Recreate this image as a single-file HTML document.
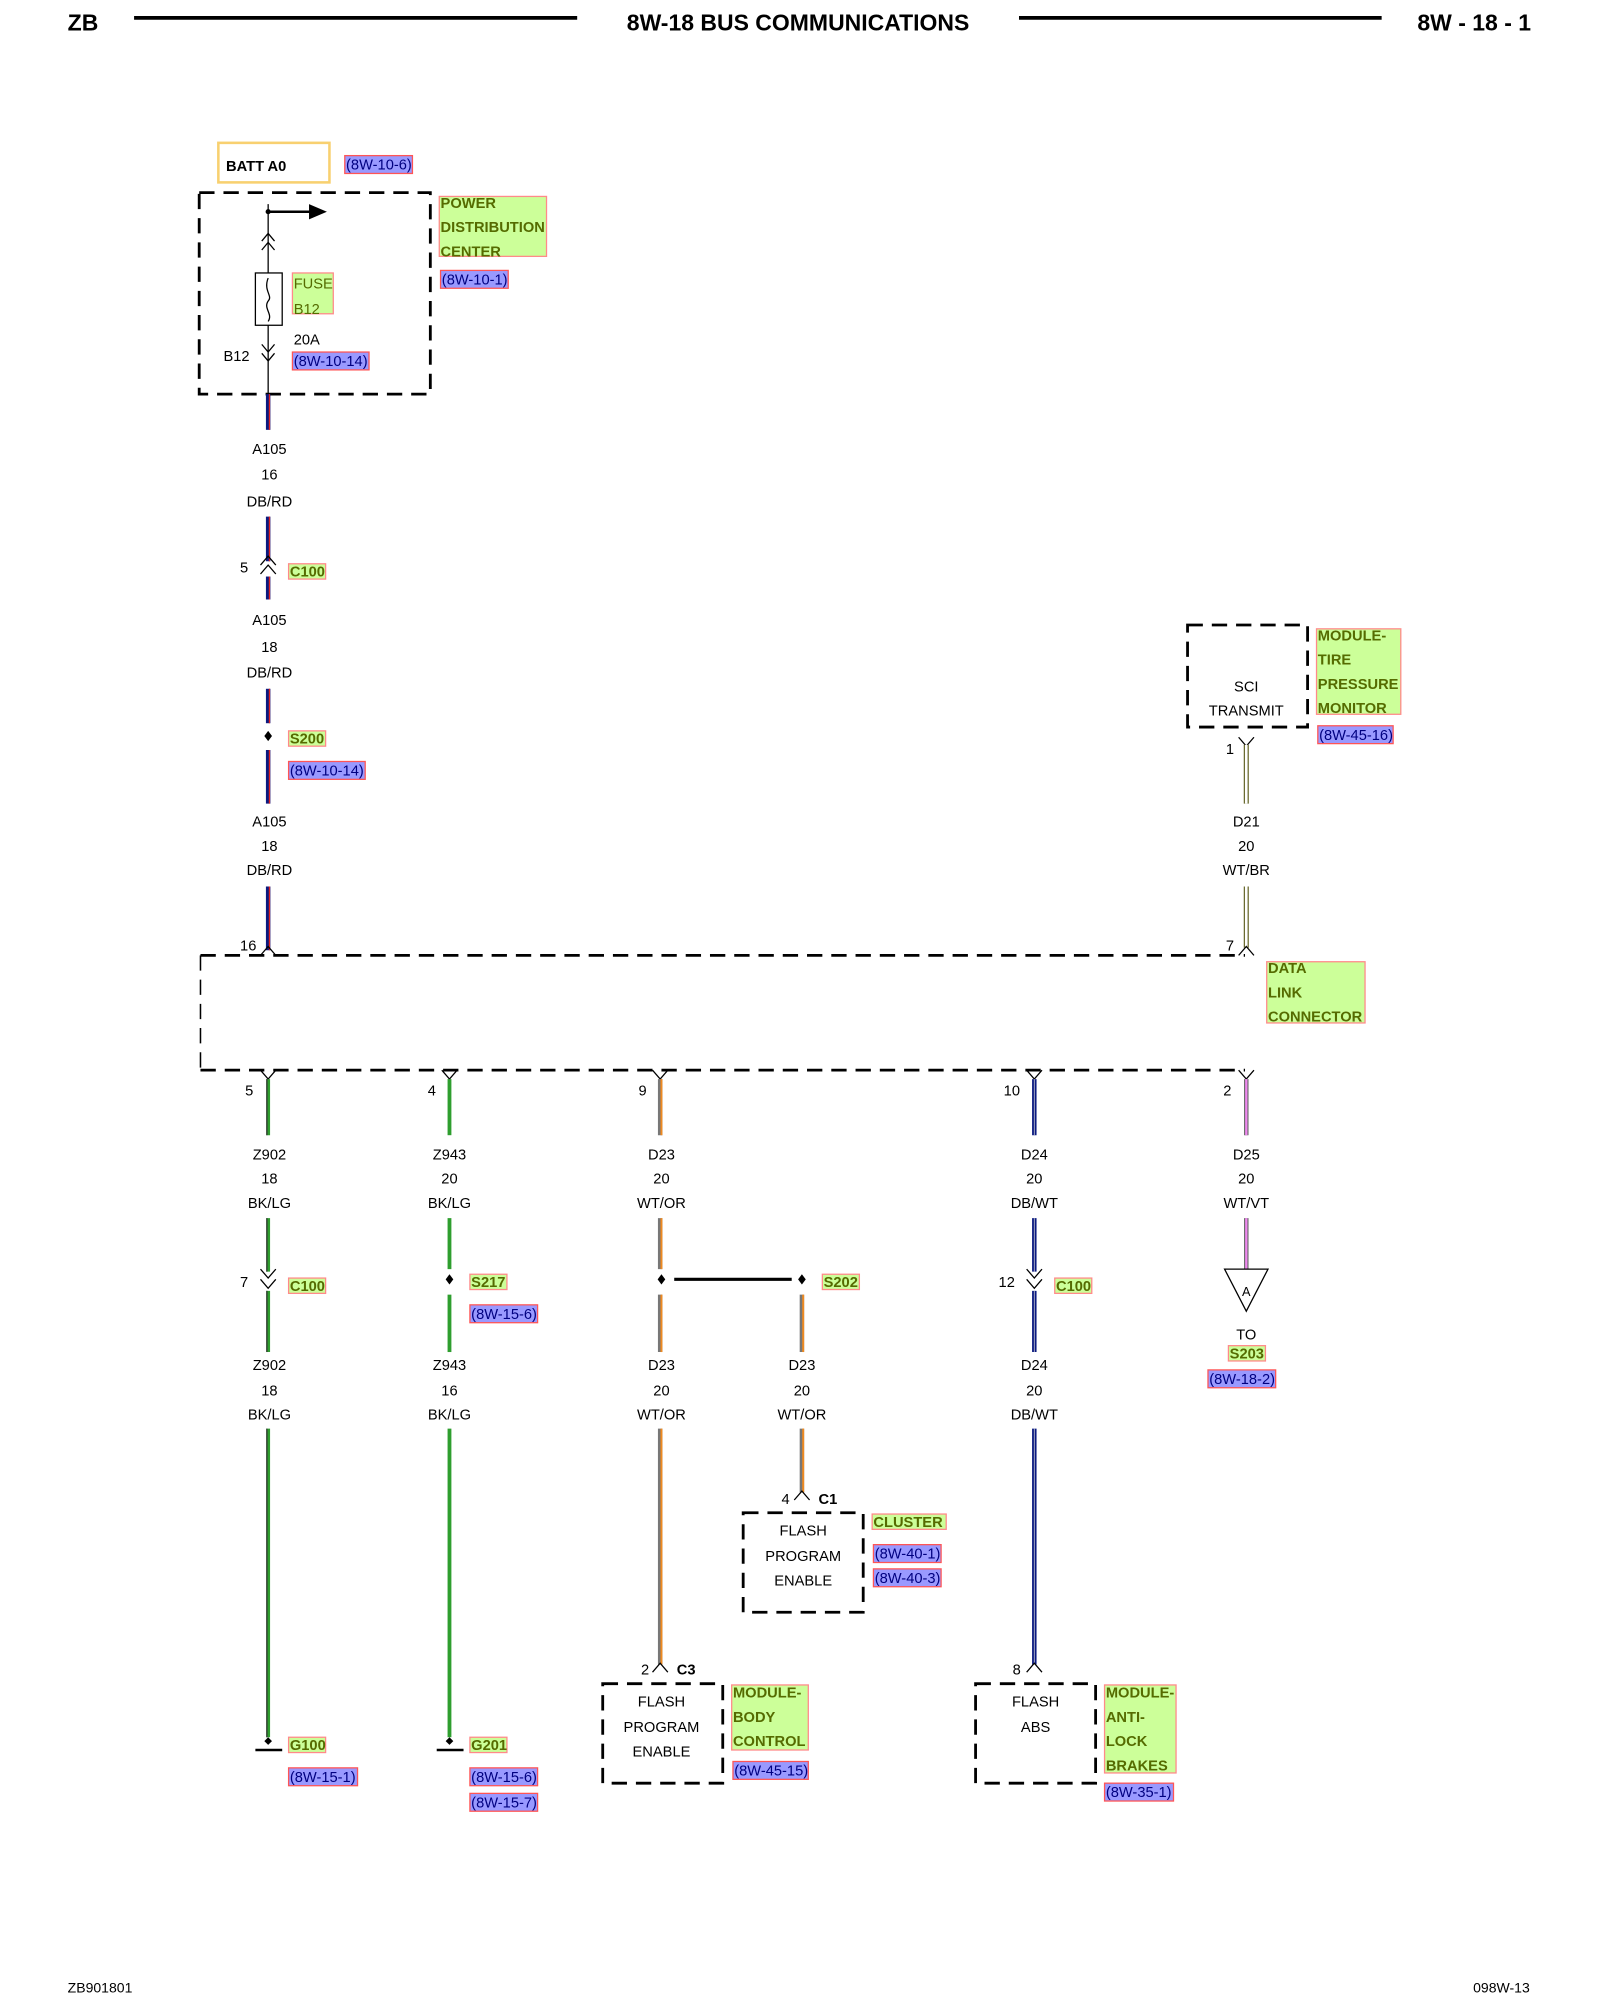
<!DOCTYPE html>
<html><head><meta charset="utf-8"><style>
html,body{margin:0;padding:0;background:#fff}
svg{display:block}
text{font-family:"Liberation Sans",sans-serif;font-size:11.5px;fill:#000}
.c{text-anchor:middle}
.g{fill:#556b00;font-weight:bold}
.r{fill:#000080}
.b{font-weight:bold}
.gb{fill:#ccff99;stroke:#ff8a8a;stroke-width:1}
.rb{fill:#9999ff;stroke:#ff5555;stroke-width:1}
.d{fill:none;stroke:#000;stroke-width:2.2;stroke-dasharray:12,7}
.t{fill:none;stroke:#000;stroke-width:1}
</style></head><body>
<svg width="1600" height="2000" viewBox="0 0 1253 1568" preserveAspectRatio="none" xmlns="http://www.w3.org/2000/svg">
<!-- header -->
<text x="53" y="24" class="b" style="font-size:18px">ZB</text>
<line x1="105" y1="14" x2="452" y2="14" stroke="#000" stroke-width="3"/>
<text x="625" y="24" class="c b" style="font-size:18px">8W-18 BUS COMMUNICATIONS</text>
<line x1="798" y1="14" x2="1082" y2="14" stroke="#000" stroke-width="3"/>
<text x="1199" y="24" class="b" style="font-size:18px;text-anchor:end">8W - 18 - 1</text>
<text x="53" y="1562" style="font-size:11px">ZB901801</text>
<text x="1198" y="1562" style="font-size:11px;text-anchor:end">098W-13</text>

<!-- BATT -->
<rect x="171" y="112" width="87" height="31" fill="#fff" stroke="#f8d070" stroke-width="2"/>
<text x="177" y="134" class="b">BATT A0</text>
<rect x="270" y="122" width="53" height="14" class="rb"/><text x="271" y="133" class="r">(8W-10-6)</text>

<!-- PDC -->
<rect x="156" y="151" width="181" height="158" class="d"/>
<line x1="210" y1="160" x2="210" y2="309" stroke="#000" stroke-width="1"/>
<circle cx="210" cy="166" r="2" fill="#000"/>
<line x1="210" y1="166" x2="244" y2="166" stroke="#000" stroke-width="2"/>
<polygon points="242,160 256,166 242,172" fill="#000"/>
<polyline points="205,189 210,183 215,189" class="t"/><polyline points="205,196 210,190 215,196" class="t"/>
<rect x="200" y="214" width="21" height="41" fill="#fff" stroke="#000"/>
<path d="M210,218 C206,228 214,232 210,236 C206,242 214,246 210,252" class="t"/>
<polyline points="205,270 210,276 215,270" class="t"/><polyline points="205,277 210,283 215,277" class="t"/>
<rect x="229" y="214" width="32" height="32" class="gb"/>
<text x="230" y="226" class="g" style="font-weight:normal">FUSE</text><text x="230" y="246" class="g" style="font-weight:normal">B12</text>
<text x="230" y="270">20A</text>
<text x="175" y="283">B12</text>
<rect x="229" y="276" width="60" height="14" class="rb"/><text x="230" y="287" class="r">(8W-10-14)</text>
<rect x="344" y="154" width="84" height="47" class="gb"/>
<text x="345" y="163" class="g">POWER</text><text x="345" y="182" class="g">DISTRIBUTION</text><text x="345" y="201" class="g">CENTER</text>
<rect x="345" y="212" width="53" height="14" class="rb"/><text x="346" y="223" class="r">(8W-10-1)</text>

<!-- A105 column -->
<g stroke-width="3.5" stroke="#0a1a80">
<line x1="210" y1="309" x2="210" y2="337"/><line x1="210" y1="405" x2="210" y2="440"/>
<line x1="210" y1="452" x2="210" y2="470"/><line x1="210" y1="540" x2="210" y2="567"/>
<line x1="210" y1="588" x2="210" y2="630"/><line x1="210" y1="695" x2="210" y2="745"/></g>
<g stroke-width="1" stroke="#e02020">
<line x1="211" y1="309" x2="211" y2="337"/><line x1="211" y1="405" x2="211" y2="440"/>
<line x1="211" y1="452" x2="211" y2="470"/><line x1="211" y1="540" x2="211" y2="567"/>
<line x1="211" y1="588" x2="211" y2="630"/><line x1="211" y1="695" x2="211" y2="745"/></g>
<text x="211" y="356" class="c">A105</text><text x="211" y="376" class="c">16</text><text x="211" y="397" class="c">DB/RD</text>
<text x="211" y="490" class="c">A105</text><text x="211" y="511" class="c">18</text><text x="211" y="531" class="c">DB/RD</text>
<text x="211" y="648" class="c">A105</text><text x="211" y="667" class="c">18</text><text x="211" y="686" class="c">DB/RD</text>
<polyline points="204,443 210,436 216,443" class="t"/><polyline points="204,450 210,443 216,450" class="t"/>
<text x="188" y="449">5</text>
<rect x="226" y="442" width="29" height="12" class="gb"/><text x="227" y="452" class="g">C100</text>
<polygon points="210,573 213,577 210,581 207,577" fill="#000"/>
<rect x="226" y="573" width="29" height="12" class="gb"/><text x="227" y="583" class="g">S200</text>
<rect x="226" y="597" width="60" height="14" class="rb"/><text x="227" y="608" class="r">(8W-10-14)</text>
<text x="188" y="745">16</text>

<!-- TPM -->
<rect x="930" y="490" width="94" height="80" class="d"/>
<text x="976" y="542" class="c">SCI</text><text x="976" y="561" class="c">TRANSMIT</text>
<rect x="1031" y="493" width="66" height="67" class="gb"/>
<text x="1032" y="502" class="g">MODULE-</text><text x="1032" y="521" class="g">TIRE</text><text x="1032" y="540" class="g">PRESSURE</text><text x="1032" y="559" class="g">MONITOR</text>
<rect x="1032" y="569" width="59" height="14" class="rb"/><text x="1033" y="580" class="r">(8W-45-16)</text>
<polyline points="970,578 976,585 982,578" class="t"/>
<text x="960" y="591">1</text>
<g stroke-width="4" stroke="#6b6b30"><line x1="976" y1="584" x2="976" y2="630"/><line x1="976" y1="695" x2="976" y2="743"/></g>
<g stroke-width="2" stroke="#fff"><line x1="976" y1="584" x2="976" y2="630"/><line x1="976" y1="695" x2="976" y2="743"/></g>
<text x="976" y="648" class="c">D21</text><text x="976" y="667" class="c">20</text><text x="976" y="686" class="c">WT/BR</text>
<text x="960" y="745">7</text>

<!-- DLC -->
<line x1="157" y1="749" x2="975" y2="749" class="d"/>
<line x1="157" y1="839" x2="975" y2="839" class="d"/>
<line x1="157" y1="749" x2="157" y2="839" class="d" style="stroke-width:1.2"/>
<polyline points="204,749 210,742 216,749" class="t"/><polyline points="970,749 976,742 982,749" class="t"/>
<rect x="992" y="754" width="77" height="48" class="gb"/>
<text x="993" y="763" class="g">DATA</text><text x="993" y="782" class="g">LINK</text><text x="993" y="801" class="g">CONNECTOR</text>

<!-- bottom pins notches -->
<g class="t"><polyline points="204,839 210,846 216,839"/><polyline points="346,839 352,846 358,839"/>
<polyline points="511,839 517,846 523,839"/><polyline points="804,839 810,846 816,839"/><polyline points="970,839 976,846 982,839"/></g>
<text x="192" y="859">5</text><text x="335" y="859">4</text><text x="500" y="859">9</text><text x="786" y="859">10</text><text x="958" y="859">2</text>

<!-- wires -->
<g stroke-width="3" stroke="#2e9e2e">
<line x1="210" y1="846" x2="210" y2="890"/><line x1="210" y1="955" x2="210" y2="997"/><line x1="210" y1="1012" x2="210" y2="1060"/><line x1="210" y1="1120" x2="210" y2="1362"/>
<line x1="352" y1="846" x2="352" y2="890"/><line x1="352" y1="955" x2="352" y2="995"/><line x1="352" y1="1015" x2="352" y2="1060"/><line x1="352" y1="1120" x2="352" y2="1362"/></g>
<g stroke-width="1" stroke="#333">
<line x1="209" y1="846" x2="209" y2="890"/><line x1="209" y1="955" x2="209" y2="997"/><line x1="209" y1="1012" x2="209" y2="1060"/><line x1="209" y1="1120" x2="209" y2="1362"/></g>
<g stroke-width="3.5" stroke="#777">
<line x1="517" y1="846" x2="517" y2="890"/><line x1="517" y1="955" x2="517" y2="995"/><line x1="517" y1="1015" x2="517" y2="1060"/><line x1="517" y1="1120" x2="517" y2="1305"/>
<line x1="628" y1="1015" x2="628" y2="1060"/><line x1="628" y1="1120" x2="628" y2="1170"/></g>
<g stroke-width="1.5" stroke="#f08a20">
<line x1="518" y1="846" x2="518" y2="890"/><line x1="518" y1="955" x2="518" y2="995"/><line x1="518" y1="1015" x2="518" y2="1060"/><line x1="518" y1="1120" x2="518" y2="1305"/>
<line x1="629" y1="1015" x2="629" y2="1060"/><line x1="629" y1="1120" x2="629" y2="1170"/></g>
<g stroke-width="3.5" stroke="#0a1a80">
<line x1="810" y1="846" x2="810" y2="890"/><line x1="810" y1="955" x2="810" y2="997"/><line x1="810" y1="1012" x2="810" y2="1060"/><line x1="810" y1="1120" x2="810" y2="1305"/></g>
<g stroke-width="0.7" stroke="#bbc"><line x1="810" y1="846" x2="810" y2="890"/><line x1="810" y1="955" x2="810" y2="997"/><line x1="810" y1="1012" x2="810" y2="1060"/><line x1="810" y1="1120" x2="810" y2="1305"/></g>
<g stroke-width="3.5" stroke="#666"><line x1="976" y1="846" x2="976" y2="890"/><line x1="976" y1="955" x2="976" y2="995"/></g>
<g stroke-width="1.8" stroke="#ee88ee"><line x1="976" y1="846" x2="976" y2="890"/><line x1="976" y1="955" x2="976" y2="995"/></g>

<!-- wire labels -->
<text x="211" y="909" class="c">Z902</text><text x="211" y="928" class="c">18</text><text x="211" y="947" class="c">BK/LG</text>
<text x="352" y="909" class="c">Z943</text><text x="352" y="928" class="c">20</text><text x="352" y="947" class="c">BK/LG</text>
<text x="518" y="909" class="c">D23</text><text x="518" y="928" class="c">20</text><text x="518" y="947" class="c">WT/OR</text>
<text x="810" y="909" class="c">D24</text><text x="810" y="928" class="c">20</text><text x="810" y="947" class="c">DB/WT</text>
<text x="976" y="909" class="c">D25</text><text x="976" y="928" class="c">20</text><text x="976" y="947" class="c">WT/VT</text>
<text x="211" y="1074" class="c">Z902</text><text x="211" y="1094" class="c">18</text><text x="211" y="1113" class="c">BK/LG</text>
<text x="352" y="1074" class="c">Z943</text><text x="352" y="1094" class="c">16</text><text x="352" y="1113" class="c">BK/LG</text>
<text x="518" y="1074" class="c">D23</text><text x="518" y="1094" class="c">20</text><text x="518" y="1113" class="c">WT/OR</text>
<text x="628" y="1074" class="c">D23</text><text x="628" y="1094" class="c">20</text><text x="628" y="1113" class="c">WT/OR</text>
<text x="810" y="1074" class="c">D24</text><text x="810" y="1094" class="c">20</text><text x="810" y="1113" class="c">DB/WT</text>

<!-- C100 connectors -->
<polyline points="204,995 210,1002 216,995" class="t"/><polyline points="204,1003 210,1010 216,1003" class="t"/>
<text x="188" y="1009">7</text>
<rect x="226" y="1002" width="29" height="12" class="gb"/><text x="227" y="1012" class="g">C100</text>
<polyline points="804,995 810,1002 816,995" class="t"/><polyline points="804,1003 810,1010 816,1003" class="t"/>
<text x="782" y="1009">12</text>
<rect x="826" y="1002" width="29" height="12" class="gb"/><text x="827" y="1012" class="g">C100</text>

<!-- splices -->
<polygon points="352,999 355,1003 352,1007 349,1003" fill="#000"/>
<rect x="368" y="999" width="29" height="12" class="gb"/><text x="369" y="1009" class="g">S217</text>
<rect x="368" y="1023" width="53" height="14" class="rb"/><text x="369" y="1034" class="r">(8W-15-6)</text>
<polygon points="518,999 521,1003 518,1007 515,1003" fill="#000"/>
<polygon points="628,999 631,1003 628,1007 625,1003" fill="#000"/>
<line x1="528" y1="1003" x2="620" y2="1003" stroke="#000" stroke-width="2.5"/>
<rect x="644" y="999" width="29" height="12" class="gb"/><text x="645" y="1009" class="g">S202</text>

<!-- A triangle -->
<polygon points="959,995 993,995 976,1028" fill="#fff" stroke="#000"/>
<text x="976" y="1016" class="c" style="font-size:10px">A</text>
<text x="976" y="1050" class="c">TO</text>
<rect x="962" y="1055" width="29" height="12" class="gb"/><text x="963" y="1065" class="g">S203</text>
<rect x="946" y="1074" width="53" height="14" class="rb"/><text x="947" y="1085" class="r">(8W-18-2)</text>

<!-- grounds -->
<polygon points="210,1362 213,1365 210,1368 207,1365" fill="#000"/>
<line x1="200" y1="1372" x2="221" y2="1372" stroke="#000" stroke-width="2"/>
<rect x="226" y="1362" width="29" height="12" class="gb"/><text x="227" y="1372" class="g">G100</text>
<rect x="226" y="1386" width="54" height="14" class="rb"/><text x="227" y="1397" class="r">(8W-15-1)</text>
<polygon points="352,1362 355,1365 352,1368 349,1365" fill="#000"/>
<line x1="342" y1="1372" x2="363" y2="1372" stroke="#000" stroke-width="2"/>
<rect x="368" y="1362" width="29" height="12" class="gb"/><text x="369" y="1372" class="g">G201</text>
<rect x="368" y="1386" width="53" height="14" class="rb"/><text x="369" y="1397" class="r">(8W-15-6)</text>
<rect x="368" y="1406" width="53" height="14" class="rb"/><text x="369" y="1417" class="r">(8W-15-7)</text>

<!-- cluster -->
<polyline points="622,1176 628,1169 634,1176" class="t"/>
<text x="612" y="1179">4</text><text x="641" y="1179" class="b">C1</text>
<rect x="582" y="1186" width="94" height="78" class="d"/>
<text x="629" y="1204" class="c">FLASH</text><text x="629" y="1224" class="c">PROGRAM</text><text x="629" y="1243" class="c">ENABLE</text>
<rect x="683" y="1187" width="58" height="12" class="gb"/><text x="684" y="1197" class="g">CLUSTER</text>
<rect x="684" y="1211" width="53" height="14" class="rb"/><text x="685" y="1222" class="r">(8W-40-1)</text>
<rect x="684" y="1230" width="53" height="14" class="rb"/><text x="685" y="1241" class="r">(8W-40-3)</text>

<!-- BCM -->
<polyline points="511,1311 517,1304 523,1311" class="t"/>
<text x="502" y="1313">2</text><text x="530" y="1313" class="b">C3</text>
<rect x="472" y="1320" width="94" height="78" class="d"/>
<text x="518" y="1338" class="c">FLASH</text><text x="518" y="1358" class="c">PROGRAM</text><text x="518" y="1377" class="c">ENABLE</text>
<rect x="573" y="1321" width="60" height="51" class="gb"/>
<text x="574" y="1331" class="g">MODULE-</text><text x="574" y="1350" class="g">BODY</text><text x="574" y="1369" class="g">CONTROL</text>
<rect x="574" y="1381" width="59" height="14" class="rb"/><text x="575" y="1392" class="r">(8W-45-15)</text>

<!-- ABS -->
<polyline points="804,1311 810,1304 816,1311" class="t"/>
<text x="793" y="1313">8</text>
<rect x="764" y="1320" width="94" height="78" class="d"/>
<text x="811" y="1338" class="c">FLASH</text><text x="811" y="1358" class="c">ABS</text>
<rect x="865" y="1321" width="56" height="69" class="gb"/>
<text x="866" y="1331" class="g">MODULE-</text><text x="866" y="1350" class="g">ANTI-</text><text x="866" y="1369" class="g">LOCK</text><text x="866" y="1388" class="g">BRAKES</text>
<rect x="865" y="1398" width="54" height="14" class="rb"/><text x="866" y="1409" class="r">(8W-35-1)</text>
</svg>
</body></html>
